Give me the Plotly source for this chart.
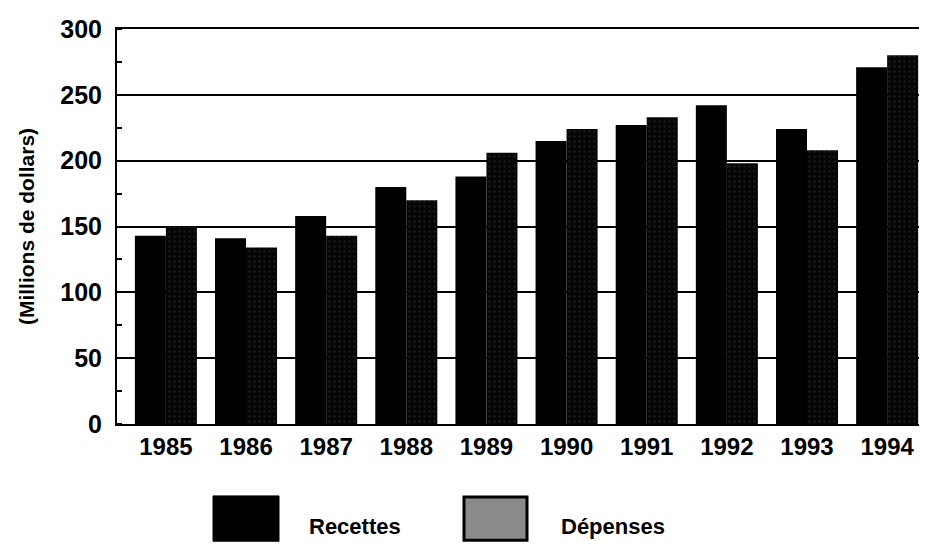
import plotly.graph_objects as go

years = ["1985", "1986", "1987", "1988", "1989", "1990", "1991", "1992", "1993", "1994"]
recettes = [143, 141, 158, 180, 188, 215, 227, 242, 224, 271]
depenses = [150, 134, 143, 170, 206, 224, 233, 198, 208, 280]
y_ticks = [0, 50, 100, 150, 200, 250, 300]
legend_labels = ["Recettes", "Dépenses"]

FONT = "Liberation Sans, Arial, sans-serif"

# The page body adds an 8px margin, so the figure is drawn 8px smaller and
# all reference pixel positions are shifted by -8.
OFF = 8
FIG_W, FIG_H = 927 - OFF, 544 - OFF
PLOT_L, PLOT_R, PLOT_T, PLOT_B = 117 - OFF, 920 - OFF, 23 - OFF, 424 - OFF

fig = go.Figure()
fig.add_trace(go.Bar(
    x=years, y=recettes, name=legend_labels[0],
    marker=dict(color="#000000", line=dict(width=0)),
))
fig.add_trace(go.Bar(
    x=years, y=depenses, name=legend_labels[1],
    marker=dict(color="#080808", line=dict(width=0),
                pattern=dict(shape=".", bgcolor="#050505", fgcolor="#2e2e2e",
                             size=5, solidity=0.2)),
))

fig.update_layout(
    width=FIG_W, height=FIG_H,
    margin=dict(l=PLOT_L, r=FIG_W - PLOT_R, t=PLOT_T, b=FIG_H - PLOT_B),
    paper_bgcolor="white", plot_bgcolor="white",
    barmode="group", bargap=0.226, bargroupgap=0.0,
    showlegend=False,
    font=dict(family=FONT, color="black"),
)

fig.update_xaxes(
    type="category", range=[-0.61, 9.41],
    showline=True, linecolor="black", linewidth=2, mirror=True,
    showgrid=False, ticks="",
    tickfont=dict(family=FONT, size=24, color="black", weight="bold"),
)
fig.update_yaxes(
    range=[0, 300], tickvals=y_ticks, ticktext=[str(v) for v in y_ticks],
    showline=True, linecolor="black", linewidth=2,
    showgrid=True, gridcolor="black", gridwidth=1.5,
    zeroline=False, ticks="", ticklabelstandoff=8,
    minor=dict(ticks="inside", ticklen=5, tickcolor="black", tickwidth=1.5, dtick=25, showgrid=False),
    tickfont=dict(family=FONT, size=25, color="black", weight="bold"),
    title=dict(text="(Millions de dollars)", standoff=20,
               font=dict(family=FONT, size=21, color="black", weight="bold")),
)

# custom legend swatches, positioned in paper coordinates from reference pixels
def pyp(y): return ((424 - OFF) - (y - OFF)) / (PLOT_B - PLOT_T)
def pxp(x): return ((x - OFF) - PLOT_L) / (PLOT_R - PLOT_L)

shapes = [
    dict(type="rect", xref="paper", yref="paper",
         x0=pxp(213), x1=pxp(279), y0=pyp(543), y1=pyp(497),
         fillcolor="black", line=dict(color="black", width=1)),
    dict(type="rect", xref="paper", yref="paper",
         x0=pxp(464), x1=pxp(527), y0=pyp(542), y1=pyp(498),
         fillcolor="#8a8a8a", line=dict(color="black", width=3)),
]
fig.update_layout(shapes=shapes)

fig.add_annotation(xref="paper", yref="paper", x=pxp(307), y=pyp(528),
                   text=legend_labels[0], showarrow=False, xanchor="left", yanchor="middle",
                   font=dict(family=FONT, size=22, color="black", weight="bold"))
fig.add_annotation(xref="paper", yref="paper", x=pxp(559), y=pyp(528),
                   text=legend_labels[1], showarrow=False, xanchor="left", yanchor="middle",
                   font=dict(family=FONT, size=22, color="black", weight="bold"))

fig.write_html("out.html")
